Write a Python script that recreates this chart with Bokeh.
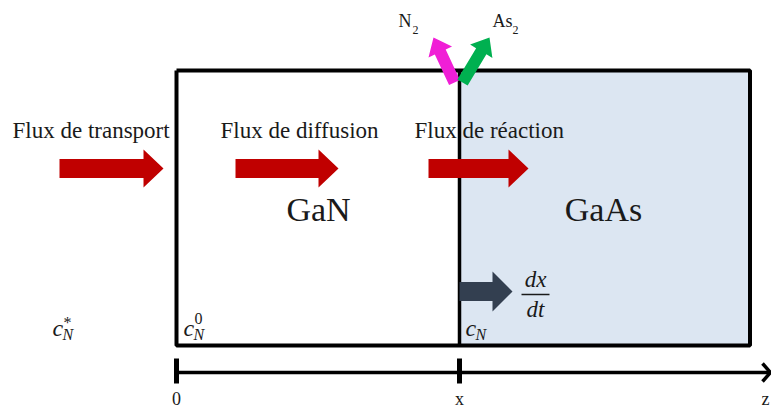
from bokeh.plotting import figure
from bokeh.models import Range1d
from bokeh.core.properties import value
from bokeh.embed import file_html
from bokeh.resources import INLINE
import numpy as np

# ---------------- content ----------------
layer_names = ["GaN", "GaAs"]
flux_labels = ["Flux de transport", "Flux de diffusion", "Flux de réaction"]
axis_labels = ["0", "x", "z"]
gas_species = ["N", "As"]
gas_subscripts = ["2", "2"]
conc_bases = ["c", "c", "c"]
conc_sups = ["*", "0", ""]
conc_subs = ["N", "N", "N"]
rate_num = "dx"
rate_den = "dt"

# ---------------- layout (page pixels, y downwards) ----------------
W, H = 771, 409
X0, XI, XR = 176, 459, 749.5      # left wall, interface, right wall
YT, YB = 70, 345                  # top / bottom of the sample
YAX = 372                          # z axis
SERIF = value("Liberation Serif")
INK = "#1a1a1a"
RED = "#c00000"
NAVY = "#333f50"
MAGENTA = "#f01fd6"
GREEN = "#00b050"
BLUE_FILL = "#dce6f2"

p = figure(width=W, height=H, output_backend="svg", toolbar_location=None,
           x_range=Range1d(0, W), y_range=Range1d(H, 0),
           x_axis_location=None, y_axis_location=None, min_border=0,
           background_fill_color="white", border_fill_color="white")
p.grid.visible = False
p.outline_line_color = None


def hbar_arrow(x0, tip, yc, body_h, head_h, head_len):
    xh = tip - head_len
    xs = [x0, xh, xh, tip, xh, xh, x0]
    ys = [yc - body_h / 2, yc - body_h / 2, yc - head_h / 2, yc,
          yc + head_h / 2, yc + body_h / 2, yc + body_h / 2]
    return xs, ys


def tilt_arrow(tail, tip, body_w, head_w, head_len):
    tail = np.array(tail, float)
    tip = np.array(tip, float)
    d = tip - tail
    L = np.hypot(*d)
    u = d / L
    n = np.array([-u[1], u[0]])
    base = tip - u * head_len
    pts = [tail + n * body_w / 2, base + n * body_w / 2, base + n * head_w / 2, tip,
           base - n * head_w / 2, base - n * body_w / 2, tail - n * body_w / 2]
    return [q[0] for q in pts], [q[1] for q in pts]


def label(x, y, text, size, align="left", style="normal"):
    p.text(x=x, y=y, text=text, text_font=SERIF, text_font_size=size,
           text_font_style=style, text_color=INK, text_align=align,
           text_baseline="middle")


# GaAs region fill
p.quad(left=[XI], right=[XR], top=[YT], bottom=[YB], fill_color=BLUE_FILL, line_color=None)
# sample outline + interface
p.line([X0, XR, XR, X0, X0], [YT, YT, YB, YB, YT], line_color="black", line_width=4)
p.line([XI, XI], [YT, YB], line_color="black", line_width=3.5)

# z axis
p.line([X0, 770], [YAX, YAX], line_color="black", line_width=3.5)
p.line([762, 770, 762], [YAX - 9, YAX, YAX + 9], line_color="black", line_width=3.5)
for tx in [X0, XI]:
    p.line([tx, tx], [358, 383], line_color="black", line_width=5)
label([X0, XI, 765], [398, 398, 398], axis_labels, "18px", align="center")

# flux arrows + labels
for x0, tip in [(59, 163), (235, 338), (428, 528)]:
    xs, ys = hbar_arrow(x0, tip, 168, 19, 38, 20)
    p.patch(xs, ys, fill_color=RED, line_color=None)
label([12, 220, 414], [130, 130, 130], flux_labels, "23px")

# layer names
label([318, 603], [209, 209], layer_names, "34px", align="center")

# growth-rate arrow
xs, ys = hbar_arrow(XI, 512, 291, 19, 40, 20)
p.patch(xs, ys, fill_color=NAVY, line_color=None)
label([535], [279], [rate_num], "23px", align="center", style="italic")
p.line([521, 549], [294, 294], line_color=INK, line_width=1.5)
label([535], [309], [rate_den], "23px", align="center", style="italic")

# gas release arrows
xs, ys = tilt_arrow((454, 82), (433, 37), 12, 26, 16)
p.patch(xs, ys, fill_color=MAGENTA, line_color=None)
xs, ys = tilt_arrow((462, 82), (489, 37), 12, 26, 16)
p.patch(xs, ys, fill_color=GREEN, line_color=None)
label([398, 492], [20, 20], gas_species, "18px")
label([412, 512], [29, 29], gas_subscripts, "12px")

# concentrations
cx = [52, 183, 465]
label(cx, [327, 327, 327], conc_bases, "24px", style="italic")
label([c + 11 for c in cx], [322, 318, 318], conc_sups, "16px")
label([c + 10 for c in cx], [334, 334, 334], conc_subs, "16px", style="italic")

open("out.html", "w").write(file_html(p, INLINE))
